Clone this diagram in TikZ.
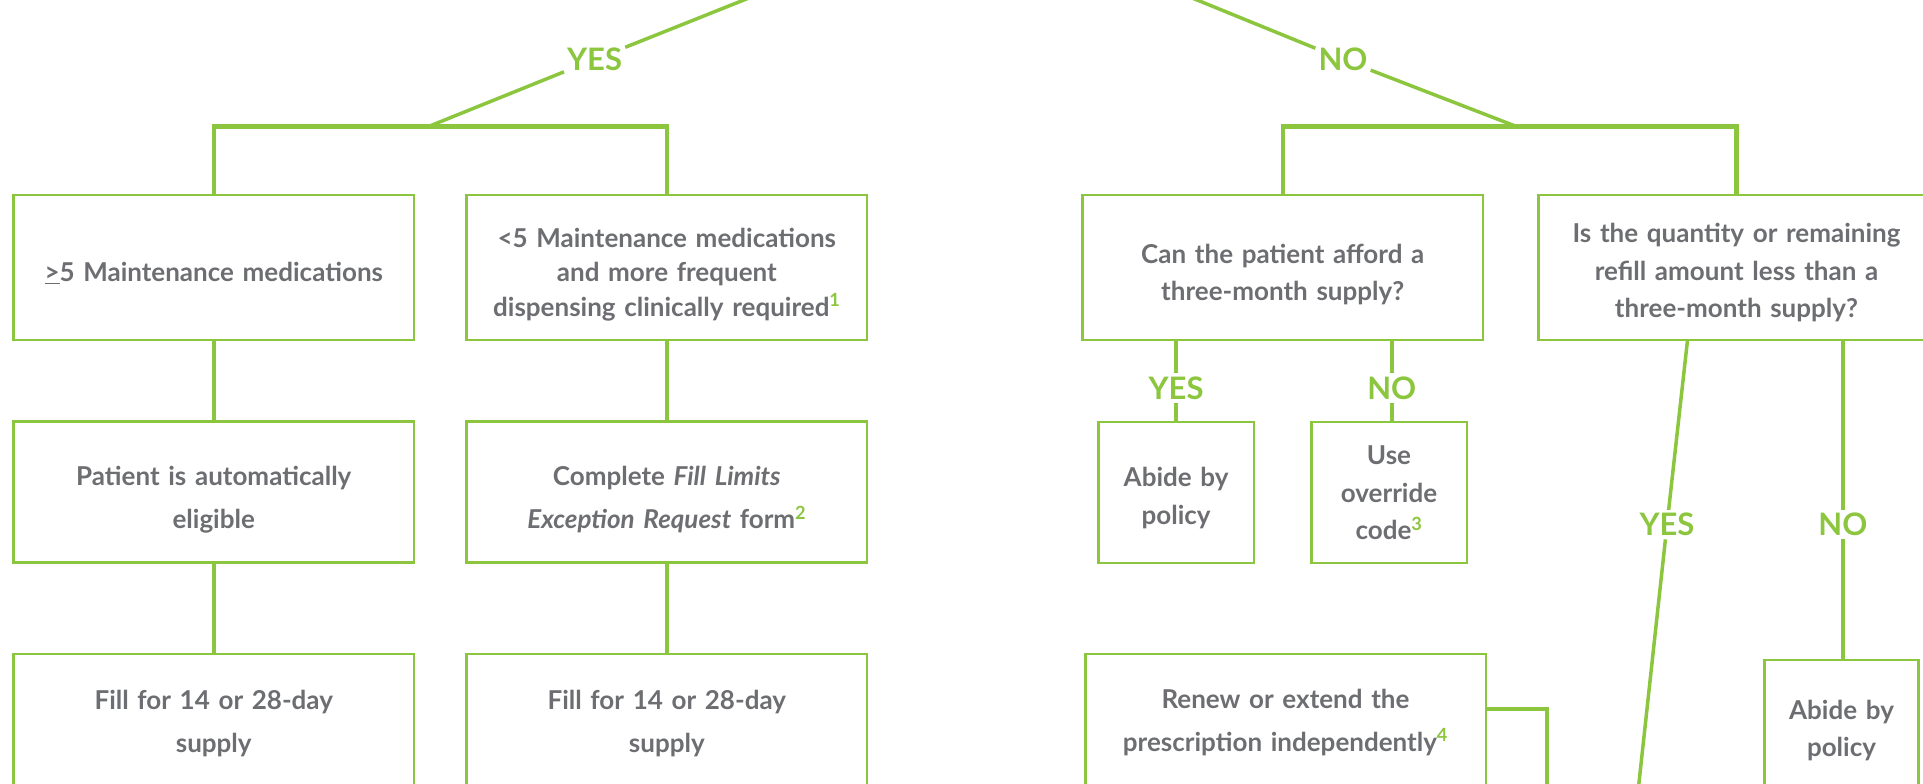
\documentclass[tikz,border=0pt]{standalone}
\usepackage{fontspec}
\setmainfont{Lato}
\definecolor{grn}{HTML}{8CC63F}
\definecolor{txt}{HTML}{6D6E71}
\newcommand\gsup[1]{{\color{grn}\textsuperscript{#1}}}
\newcommand\tb[1]{\rule{0pt}{#1pt}}
\newcommand\bb[1]{\rule[-#1pt]{0pt}{#1pt}}
\begin{document}
\begin{tikzpicture}[x=1pt,y=-1pt,
  box/.style={draw=grn, line width=2.5pt, text=txt, align=center, inner sep=0pt, outer sep=0pt},
  wide/.style={box, minimum width=400.5pt, text width=396pt},
  narrow/.style={box, minimum width=155.5pt, text width=152pt},
  tall/.style={minimum height=145pt},
  mid/.style={minimum height=141pt},
  fa/.style={font=\bfseries\fontsize{26}{34.5}\selectfont},
  fb/.style={font=\bfseries\fontsize{26}{43}\selectfont},
  fc/.style={font=\bfseries\fontsize{26}{37.5}\selectfont},
  conn/.style={draw=grn, line width=3.5pt},
  bar/.style={draw=grn, line width=4.5pt},
  lab/.style={text=grn, inner sep=3pt, font=\bfseries\fontsize{31}{31}\selectfont}]
\useasboundingbox (0,0) rectangle (1923,784);
\clip (0,0) rectangle (1923,784);

% left branch boxes
\node[wide, tall, fa] (A) at (213.75,267.5) {\tb{34}\underline{>}5 Maintenance medications\bb{6}};
\node[wide, tall, fa] (B) at (666.8,267.5) {\tb{34}<5 Maintenance medications\\and more frequent\\dispensing clinically required\gsup{1}\bb{6}};
\node[wide, mid, fb] (C) at (213.75,492.2) {\tb{35}Patient is automatically\\eligible\bb{6}};
\node[wide, mid, fb] (D) at (666.8,492.2) {\tb{35}Complete \textit{Fill Limits}\\\textit{Exception Request} form\gsup{2}\bb{6}};
\node[wide, tall, fb] (E) at (213.75,726.5) {\tb{20}Fill for 14 or 28-day\\supply\bb{11}};
\node[wide, tall, fb] (F) at (666.8,726.5) {\tb{20}Fill for 14 or 28-day\\supply\bb{11}};

% right branch boxes
\node[wide, tall, fc] (G) at (1282.75,267.5) {\tb{34.6}Can the patient afford a\\three-month supply?\bb{6}};
\node[wide, tall, fc, minimum width=395pt] (H) at (1736.5,267.5) {\tb{31}Is the quantity or remaining\\refill amount less than a\\three-month supply?\bb{6}};
\node[narrow, mid, fc] (I) at (1176.1,492.5) {\tb{32}Abide by\\policy\bb{6}};
\node[narrow, mid, fc] (J) at (1389,492.5) {\tb{25}Use\\override\\code\gsup{3}\bb{6}};
\node[wide, tall, fb] (L) at (1285.5,726.5) {\tb{20}Renew or extend the\\prescription independently\gsup{4}\bb{14}};
\node[narrow, tall, fc, minimum width=154.2pt] (K) at (1841.5,732.5) {\tb{21}Abide by\\policy\bb{10}};

% top branches
\coordinate (topL) at (794,-20);
\coordinate (topR) at (1148,-20);
\coordinate (yesbar) at (428,126.7);
\coordinate (nobar) at (1517,126.7);
\node[lab] (yes1) at (594.6,59.5) {YES};
\node[lab] (no1) at (1343,59.5) {NO};
\draw[conn] (topL) -- (yes1) -- (yesbar);
\draw[conn] (topR) -- (no1) -- (nobar);
\draw[bar] (A.north) |- (yesbar) -| (B.north);
\draw[bar] (G.north) |- (nobar) -| (H.north);

% left chains
\draw[conn] (A.south) -- (C.north);
\draw[conn] (C.south) -- (E.north);
\draw[conn] (B.south) -- (D.north);
\draw[conn] (D.south) -- (F.north);

% G answers
\node[lab] (gyes) at (1176.1,388) {YES};
\node[lab] (gno) at (1391.8,388) {NO};
\draw[conn] (gyes) -- (gyes |- G.south);
\draw[conn] (gyes) -- (gyes |- I.north);
\draw[conn] (gno) -- (gno |- G.south);
\draw[conn] (gno) -- (gno |- J.north);

% H answers
\coordinate (hys) at (1687.5,340);
\coordinate (hyend) at (1636,810);
\node[lab] (hyes) at (1667,524.7) {YES};
\draw[conn] (hys) -- (hyes) -- (hyend);
\node[lab] (hno) at (1842.8,524.7) {NO};
\draw[conn] (hno) -- (hno |- H.south);
\draw[conn] (hno) -- (hno |- K.north);

% L side connector
\coordinate (Lc) at (1547,709);
\coordinate (Lend) at (1547,810);
\draw[conn] (L.east |- Lc) -- (Lc) -- (Lend);
\end{tikzpicture}
\end{document}
